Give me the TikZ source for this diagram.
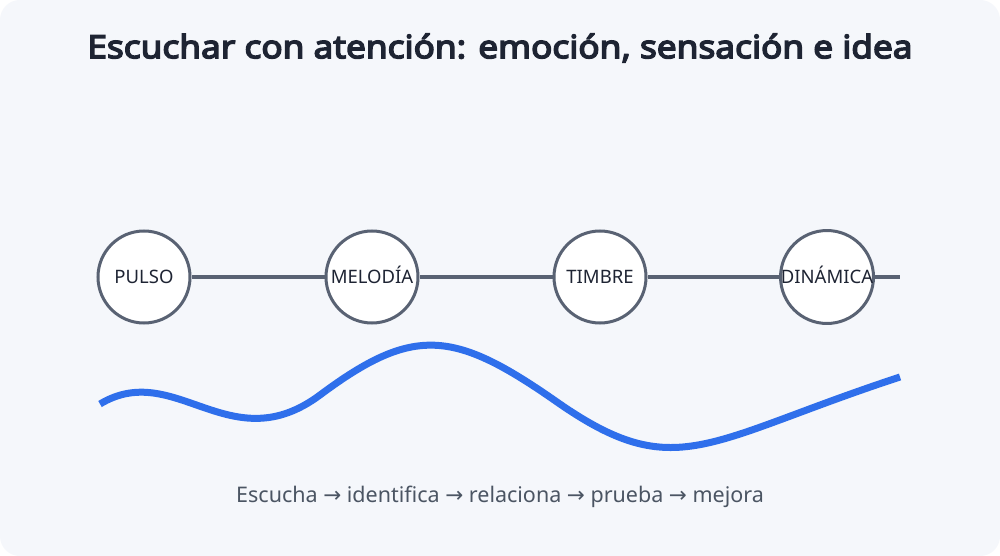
\documentclass[tikz,border=0pt]{standalone}
\usepackage{fontspec}
\setmainfont{Noto Sans}
\newfontfamily\titlefont{Noto Sans}[FakeBold=4.5, FakeStretch=1.1]
\newfontfamily\arrowfont{DejaVu Sans}
\definecolor{bgc}{HTML}{F5F7FB}
\definecolor{titlec}{HTML}{1E2433}
\definecolor{linec}{HTML}{596273}
\definecolor{wavec}{HTML}{2F6FEB}
\definecolor{subc}{HTML}{4B5563}
\tikzset{
  stepnode/.style={circle, draw=linec, line width=3pt, fill=white, minimum size=92pt, inner sep=0pt, font=\fontsize{18.5}{22}\selectfont, text=titlec, text height=13.5pt, text depth=0pt},
  linkline/.style={draw=linec, line width=4pt},
  wave/.style={draw=wavec, line width=7pt},
}
\begin{document}
\begin{tikzpicture}[x=1pt,y=-1pt]
\useasboundingbox (0,0) rectangle (1000,556);
\fill[white] (0,0) rectangle (1000,556);
\fill[bgc, rounded corners=20pt] (0,0) rectangle (1000,556);
\node[font=\titlefont\fontsize{32}{38}\selectfont, text=titlec] (title) at (500,48) {Escuchar con atención: emoción, sensación e idea};
\node[stepnode] (pulso) at (144,277) {PULSO};
\node[stepnode] (melodia) at (372,277) {MELODÍA};
\node[stepnode] (timbre) at (600,277) {TIMBRE};
\node[stepnode] (dinamica) at (827,277) {DINÁMICA};
\coordinate (lineend) at (900,277);
\draw[linkline] (pulso) -- (melodia);
\draw[linkline] (melodia) -- (timbre);
\draw[linkline] (timbre) -- (dinamica);
\draw[linkline] (dinamica) -- (lineend);
\draw[wave] (100,404) .. controls (175,359) and (230,462) .. (320,395)
  .. controls (414,325) and (454,330) .. (557,402)
  .. controls (676,485) and (705,441) .. (900,377);
\node[font=\fontsize{21.5}{26}\selectfont, text=subc] (caption) at (500,497) {Escucha {\arrowfont →} identifica {\arrowfont →} relaciona {\arrowfont →} prueba {\arrowfont →} mejora};
\end{tikzpicture}
\end{document}
